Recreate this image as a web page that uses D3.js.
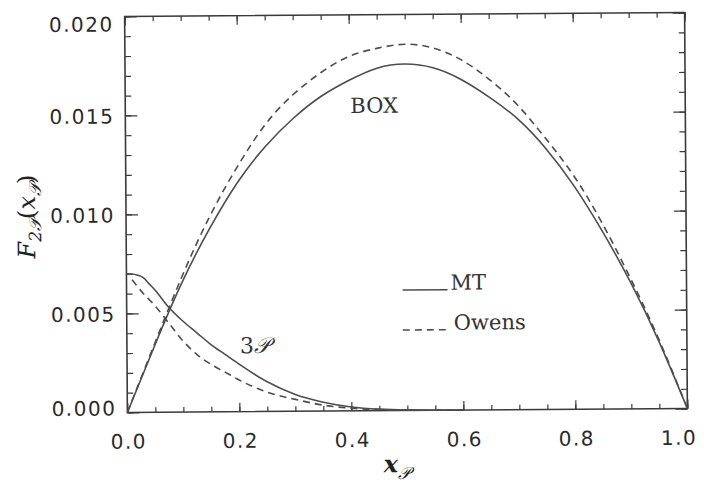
<!DOCTYPE html>
<html><head><meta charset="utf-8">
<script src="https://cdn.jsdelivr.net/npm/d3@7"></script>
<style>body{margin:0;background:#fff}</style>
</head><body>
<svg id="chart" width="704" height="483"></svg>
<script>
// Axis ticks and labels
const xMajor = [0, 0.2, 0.4, 0.6, 0.8, 1.0];
const xTickLabels = ["0.0", "0.2", "0.4", "0.6", "0.8", "1.0"];
const yMajor = [0, 0.005, 0.010, 0.015, 0.020];
const yTickLabels = ["0.000", "0.005", "0.010", "0.015", "0.020"];

// BOX contribution
const xBox = [0, 0.05, 0.1, 0.15, 0.2, 0.25, 0.3, 0.35, 0.4, 0.45, 0.5,
              0.55, 0.6, 0.65, 0.7, 0.75, 0.8, 0.85, 0.9, 0.95, 1.0];
const boxMT = [0, 0.0034, 0.0066, 0.0093, 0.0116, 0.0134, 0.0148, 0.0159, 0.0167, 0.0173, 0.0175,
               0.0173, 0.0167, 0.0158, 0.0147, 0.0132, 0.0113, 0.0090, 0.0064, 0.0034, 0];
const boxOwens = [0, 0.0035, 0.0069, 0.0099, 0.0124, 0.0145, 0.0160, 0.0171, 0.0179, 0.0183, 0.0185,
                  0.0183, 0.0177, 0.0167, 0.0154, 0.0137, 0.0118, 0.0094, 0.0066, 0.0035, 0];

// Three-pomeron contribution
const x3PMT = [0, 0.01, 0.02, 0.03, 0.04, 0.05, 0.075, 0.1, 0.125, 0.15, 0.175, 0.2,
               0.25, 0.3, 0.35, 0.4, 0.45, 0.5, 0.6];
const p3MT = [0.0070, 0.00699, 0.00693, 0.0068, 0.0065, 0.0062, 0.0053, 0.0046, 0.0040, 0.0034, 0.0029, 0.0024,
              0.0015, 0.00085, 0.00045, 0.0002, 0.00008, 0.00003, 0];
const x3POwens = [0.01, 0.03, 0.05, 0.075, 0.1, 0.125, 0.15, 0.175, 0.2,
                  0.25, 0.3, 0.35, 0.4, 0.45, 0.5, 0.6];
const p3Owens = [0.0067, 0.0060, 0.0054, 0.0045, 0.0036, 0.0029, 0.0024, 0.0020, 0.0016,
                 0.00097, 0.0006, 0.0003, 0.00013, 0.00005, 0.00002, 0];

const P = "\u{1D4AB}";
const ink = "#3a3a3a";
const curveInk = "#4d4d4d";

const svg = d3.select("#chart");
const L = 126, R = 686, T = 14.5, B = 410.5;
const x = d3.scaleLinear().domain([0, 1]).range([L, R]);
const y = d3.scaleLinear().domain([0, 0.020]).range([B, T]);

const g = svg.append("g").attr("transform", "rotate(-0.4 406 212)");

const tickFont = g => g.selectAll("text")
  .attr("font-family", "DejaVu Sans, sans-serif")
  .attr("font-size", 20)
  .attr("letter-spacing", "1.5px")
  .attr("fill", "#2a2a2a");

// bottom axis with labels
g.append("g").attr("transform", `translate(0,${B})`)
  .call(d3.axisBottom(x).tickValues(xMajor).tickFormat((d, i) => xTickLabels[i]).tickSize(-9).tickPadding(22))
  .call(a => a.select(".domain").remove())
  .call(tickFont)
  .call(a => a.selectAll("text").attr("dx", d => d === 1 ? -9 : 0.75));
g.append("g").attr("transform", `translate(0,${B})`)
  .call(d3.axisBottom(x).tickValues(d3.range(0, 1.0001, 0.05)).tickFormat("").tickSize(-5))
  .call(a => a.select(".domain").remove());
// top axis
g.append("g").attr("transform", `translate(0,${T})`)
  .call(d3.axisTop(x).tickValues(xMajor).tickFormat("").tickSize(-9))
  .call(a => a.select(".domain").remove());
g.append("g").attr("transform", `translate(0,${T})`)
  .call(d3.axisTop(x).tickValues(d3.range(0, 1.0001, 0.05)).tickFormat("").tickSize(-5))
  .call(a => a.select(".domain").remove());
// left axis with labels
g.append("g").attr("transform", `translate(${L},0)`)
  .call(d3.axisLeft(y).tickValues(yMajor).tickFormat((d, i) => yTickLabels[i]).tickSize(-12).tickPadding(11))
  .call(a => a.select(".domain").remove())
  .call(tickFont)
  .call(a => a.selectAll("text").attr("y", d => d === 0.020 ? 8 : d === 0 ? -4 : 1));
g.append("g").attr("transform", `translate(${L},0)`)
  .call(d3.axisLeft(y).tickValues(d3.range(0, 0.02001, 0.001)).tickFormat("").tickSize(-6))
  .call(a => a.select(".domain").remove());
// right axis
g.append("g").attr("transform", `translate(${R},0)`)
  .call(d3.axisRight(y).tickValues(yMajor).tickFormat("").tickSize(-12))
  .call(a => a.select(".domain").remove());
g.append("g").attr("transform", `translate(${R},0)`)
  .call(d3.axisRight(y).tickValues(d3.range(0, 0.02001, 0.001)).tickFormat("").tickSize(-6))
  .call(a => a.select(".domain").remove());

g.selectAll(".tick line").attr("stroke", ink).attr("stroke-width", 1.2);

// frame
g.append("rect").attr("x", L).attr("y", T).attr("width", R - L).attr("height", B - T)
  .attr("fill", "none").attr("stroke", ink).attr("stroke-width", 1.6);

// curves
const smooth = d3.line().x(d => x(d[0])).y(d => y(d[1])).curve(d3.curveNatural);
const mono = d3.line().x(d => x(d[0])).y(d => y(d[1])).curve(d3.curveMonotoneX);
const series = [
  { xs: xBox, vs: boxMT, dash: null, gen: smooth },
  { xs: xBox, vs: boxOwens, dash: "7,5", gen: smooth },
  { xs: x3PMT, vs: p3MT, dash: null, gen: mono },
  { xs: x3POwens, vs: p3Owens, dash: "7,5", gen: mono }
];
series.forEach(s => {
  g.append("path")
    .datum(s.xs.map((v, i) => [v, s.vs[i]]))
    .attr("d", s.gen)
    .attr("fill", "none")
    .attr("stroke", curveInk)
    .attr("stroke-width", 1.6)
    .attr("stroke-dasharray", s.dash);
});

// curve labels
const serif = "DejaVu Serif, serif";
g.append("text").attr("x", 351).attr("y", 112.5).attr("font-family", serif).attr("font-size", 21)
  .attr("fill", "#333").text("BOX");
const lbl3 = g.append("text").attr("x", 239).attr("y", 352).attr("font-family", serif)
  .attr("font-size", 22).attr("fill", "#333");
lbl3.append("tspan").text("3");
lbl3.append("tspan").attr("font-style", "italic").text(P);

// legend
g.append("line").attr("x1", 402).attr("x2", 447).attr("y1", 290).attr("y2", 290)
  .attr("stroke", curveInk).attr("stroke-width", 1.6);
g.append("text").attr("x", 450).attr("y", 290).attr("font-family", serif).attr("font-size", 21)
  .attr("fill", "#333").text("MT");
g.append("line").attr("x1", 402).attr("x2", 449).attr("y1", 330).attr("y2", 330)
  .attr("stroke", curveInk).attr("stroke-width", 1.6).attr("stroke-dasharray", "7,5");
g.append("text").attr("x", 453).attr("y", 330).attr("font-family", serif).attr("font-size", 21)
  .attr("fill", "#333").text("Owens");

// axis titles
const xt = g.append("text").attr("x", 382).attr("y", 472).attr("font-family", serif)
  .attr("font-size", 24).attr("fill", "#222");
xt.append("tspan").attr("font-style", "italic").attr("font-weight", "bold").text("x");
xt.append("tspan").attr("dy", 7).attr("font-size", 17).attr("font-style", "italic").text(P);

const yt = g.append("text").attr("transform", "translate(35,214) rotate(-90)")
  .attr("text-anchor", "middle").attr("font-family", serif).attr("font-size", 24).attr("fill", "#222");
yt.append("tspan").attr("font-style", "italic").text("F");
yt.append("tspan").attr("dy", 6).attr("font-size", 17).attr("font-style", "italic").text("2" + P);
yt.append("tspan").attr("dy", -6).text("(");
yt.append("tspan").attr("font-style", "italic").text("x");
yt.append("tspan").attr("dy", 6).attr("font-size", 17).attr("font-style", "italic").text(P);
yt.append("tspan").attr("dy", -6).text(")");
</script>
</body></html>
